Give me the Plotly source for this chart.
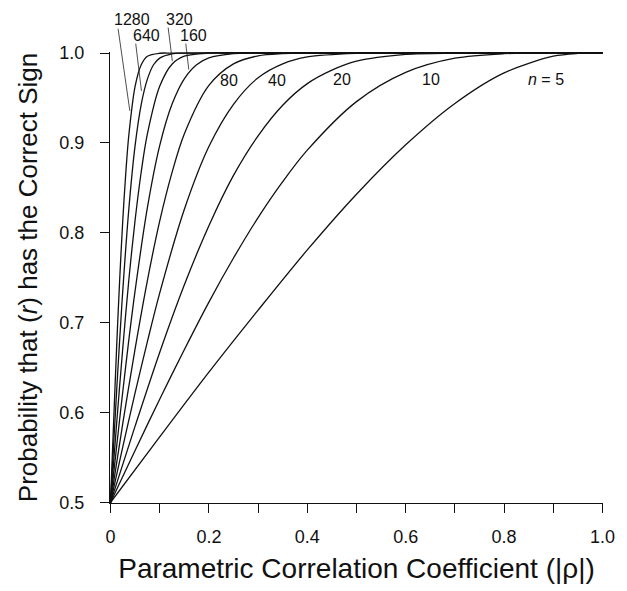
import plotly.graph_objects as go

# Values (x = |rho|, y = probability)
n5_x = [0, 0.1, 0.2, 0.3, 0.4, 0.5, 0.6, 0.7, 0.8, 0.9, 0.95, 1.0]
n5_y = [0.5, 0.573, 0.645, 0.714, 0.781, 0.843, 0.898, 0.944, 0.978, 0.9965, 0.9996, 1.0]

n10_x = [0, 0.05, 0.1, 0.15, 0.2, 0.25, 0.3, 0.35, 0.4, 0.5, 0.6, 0.7, 0.8, 0.9, 1.0]
n10_y = [0.5, 0.558, 0.615, 0.670, 0.723, 0.772, 0.817, 0.857, 0.892, 0.946, 0.9785, 0.9943, 0.9993, 1.0, 1.0]

n20_x = [0, 0.05, 0.1, 0.15, 0.2, 0.25, 0.3, 0.35, 0.4, 0.45, 0.5, 0.6, 0.7, 0.8, 1.0]
n20_y = [0.5, 0.585, 0.667, 0.742, 0.808, 0.864, 0.908, 0.942, 0.966, 0.981, 0.991, 0.9986, 0.9999, 1.0, 1.0]

n40_x = [0, 0.025, 0.05, 0.075, 0.1, 0.15, 0.2, 0.25, 0.3, 0.35, 0.4, 0.5, 0.6, 1.0]
n40_y = [0.5, 0.562, 0.622, 0.679, 0.733, 0.826, 0.896, 0.943, 0.9725, 0.988, 0.9957, 0.9997, 1.0, 1.0]

n80_x = [0, 0.025, 0.05, 0.075, 0.1, 0.125, 0.15, 0.2, 0.25, 0.3, 0.35, 0.4, 1.0]
n80_y = [0.5, 0.588, 0.671, 0.747, 0.813, 0.867, 0.910, 0.964, 0.988, 0.997, 0.9994, 1.0, 1.0]

n160_x = [0, 0.0125, 0.025, 0.0375, 0.05, 0.075, 0.1, 0.125, 0.15, 0.175, 0.2, 0.25, 0.3, 1.0]
n160_y = [0.5, 0.5625, 0.6235, 0.682, 0.7355, 0.828, 0.897, 0.943, 0.9714, 0.987, 0.9946, 0.9993, 1.0, 1.0]

n320_x = [0, 0.0125, 0.025, 0.0375, 0.05, 0.0625, 0.075, 0.1, 0.125, 0.15, 0.2, 0.25, 1.0]
n320_y = [0.5, 0.588, 0.672, 0.749, 0.814, 0.868, 0.910, 0.963, 0.9876, 0.9965, 0.9999, 1.0, 1.0]

n640_x = [0, 0.00625, 0.0125, 0.01875, 0.025, 0.0375, 0.05, 0.0625, 0.075, 0.0875, 0.1, 0.125, 0.15, 1.0]
n640_y = [0.5, 0.563, 0.624, 0.682, 0.736, 0.828, 0.897, 0.943, 0.971, 0.987, 0.9944, 0.9992, 1.0, 1.0]

n1280_x = [0, 0.00625, 0.0125, 0.01875, 0.025, 0.03125, 0.0375, 0.05, 0.0625, 0.075, 0.1, 0.125, 1.0]
n1280_y = [0.5, 0.588, 0.673, 0.749, 0.814, 0.868, 0.910, 0.963, 0.987, 0.9964, 0.9998, 1.0, 1.0]

sample_sizes = [5, 10, 20, 40, 80, 160, 320, 640, 1280]
series_x = [n5_x, n10_x, n20_x, n40_x, n80_x, n160_x, n320_x, n640_x, n1280_x]
series_y = [n5_y, n10_y, n20_y, n40_y, n80_y, n160_y, n320_y, n640_y, n1280_y]

# Curve labels: text and label position (data units; some sit above the 1.0 line)
label_text = ["<i>n</i> = 5", "10", "20", "40", "80", "160", "320", "640", "1280"]
label_x = [0.886, 0.652, 0.471, 0.339, 0.2415, 0.1677, 0.1397, 0.0739, 0.0439]
label_y = [0.971, 0.971, 0.971, 0.970, 0.970, 1.020, 1.0377, 1.020, 1.0377]

# Leader lines (for the crowded labels): tail (near label) -> head (on curve)
leader_tail_x = [0.1527, 0.1168, 0.0509, 0.0150]
leader_tail_y = [1.0122, 1.0300, 1.0122, 1.0288]
leader_head_x = [0.1591, 0.1257, 0.0629, 0.0393]
leader_head_y = [0.9817, 0.9911, 0.9579, 0.9357]

x_tick_vals = [0, 0.2, 0.4, 0.6, 0.8, 1.0]
x_tick_text = ["0", "0.2", "0.4", "0.6", "0.8", "1.0"]
x_minor_vals = [0.1, 0.3, 0.5, 0.7, 0.9]
y_tick_vals = [0.5, 0.6, 0.7, 0.8, 0.9, 1.0]
y_tick_text = ["0.5", "0.6", "0.7", "0.8", "0.9", "1.0"]

X_RANGE = [-0.001, 1.001]
Y_RANGE = [0.4995, 1.0012]

FONT = "Liberation Sans, Arial, Helvetica, sans-serif"
INK = "#111111"


def y_to_paper(v):
    return (v - Y_RANGE[0]) / (Y_RANGE[1] - Y_RANGE[0])


fig = go.Figure()
for n, xs, ys in zip(sample_sizes, series_x, series_y):
    fig.add_trace(go.Scatter(
        x=xs, y=ys, mode="lines", name=f"n = {n}",
        line=dict(color=INK, width=1.3, shape="spline", smoothing=0.9),
        hoverinfo="skip", showlegend=False,
    ))

annotations = []
for t, lx, ly in zip(label_text, label_x, label_y):
    annotations.append(dict(
        x=lx, y=y_to_paper(ly), xref="x", yref="paper", text=t, showarrow=False,
        font=dict(family=FONT, size=16, color=INK),
        xanchor="center", yanchor="middle",
    ))
for tx, ty, hx, hy in zip(leader_tail_x, leader_tail_y, leader_head_x, leader_head_y):
    annotations.append(dict(
        x=hx, y=hy, ax=tx, ay=ty, xref="x", yref="y", axref="x", ayref="y",
        text="", showarrow=True, arrowhead=0, arrowwidth=0.8,
        arrowcolor="#222222", standoff=0, startstandoff=0,
    ))

fig.update_layout(
    width=627, height=591,
    margin=dict(l=110, r=16, t=52, b=88),
    paper_bgcolor="white", plot_bgcolor="white",
    font=dict(family=FONT, color=INK),
    annotations=annotations,
    showlegend=False,
)
fig.update_xaxes(
    range=X_RANGE, showgrid=False, zeroline=False,
    showline=True, linecolor=INK, linewidth=1.2,
    ticks="outside", ticklen=9, tickwidth=1.2, tickcolor=INK,
    tickvals=x_tick_vals, ticktext=x_tick_text,
    tickfont=dict(family=FONT, size=18, color=INK),
    ticklabelstandoff=8,
    minor=dict(tickvals=x_minor_vals, ticks="outside", ticklen=9,
               tickwidth=1.2, tickcolor=INK, showgrid=False),
    title=dict(text="Parametric Correlation Coefficient (|ρ|)",
               font=dict(family=FONT, size=28, color=INK), standoff=12),
)
fig.update_yaxes(
    range=Y_RANGE, showgrid=False, zeroline=False,
    showline=True, linecolor=INK, linewidth=1.2,
    ticks="outside", ticklen=9, tickwidth=1.2, tickcolor=INK,
    tickvals=y_tick_vals, ticktext=y_tick_text,
    tickfont=dict(family=FONT, size=18, color=INK),
    ticklabelstandoff=12,
    title=dict(text="Probability that (<i>r</i>) has the Correct Sign",
               font=dict(family=FONT, size=26, color=INK), standoff=14),
)

fig.write_html("out.html")
